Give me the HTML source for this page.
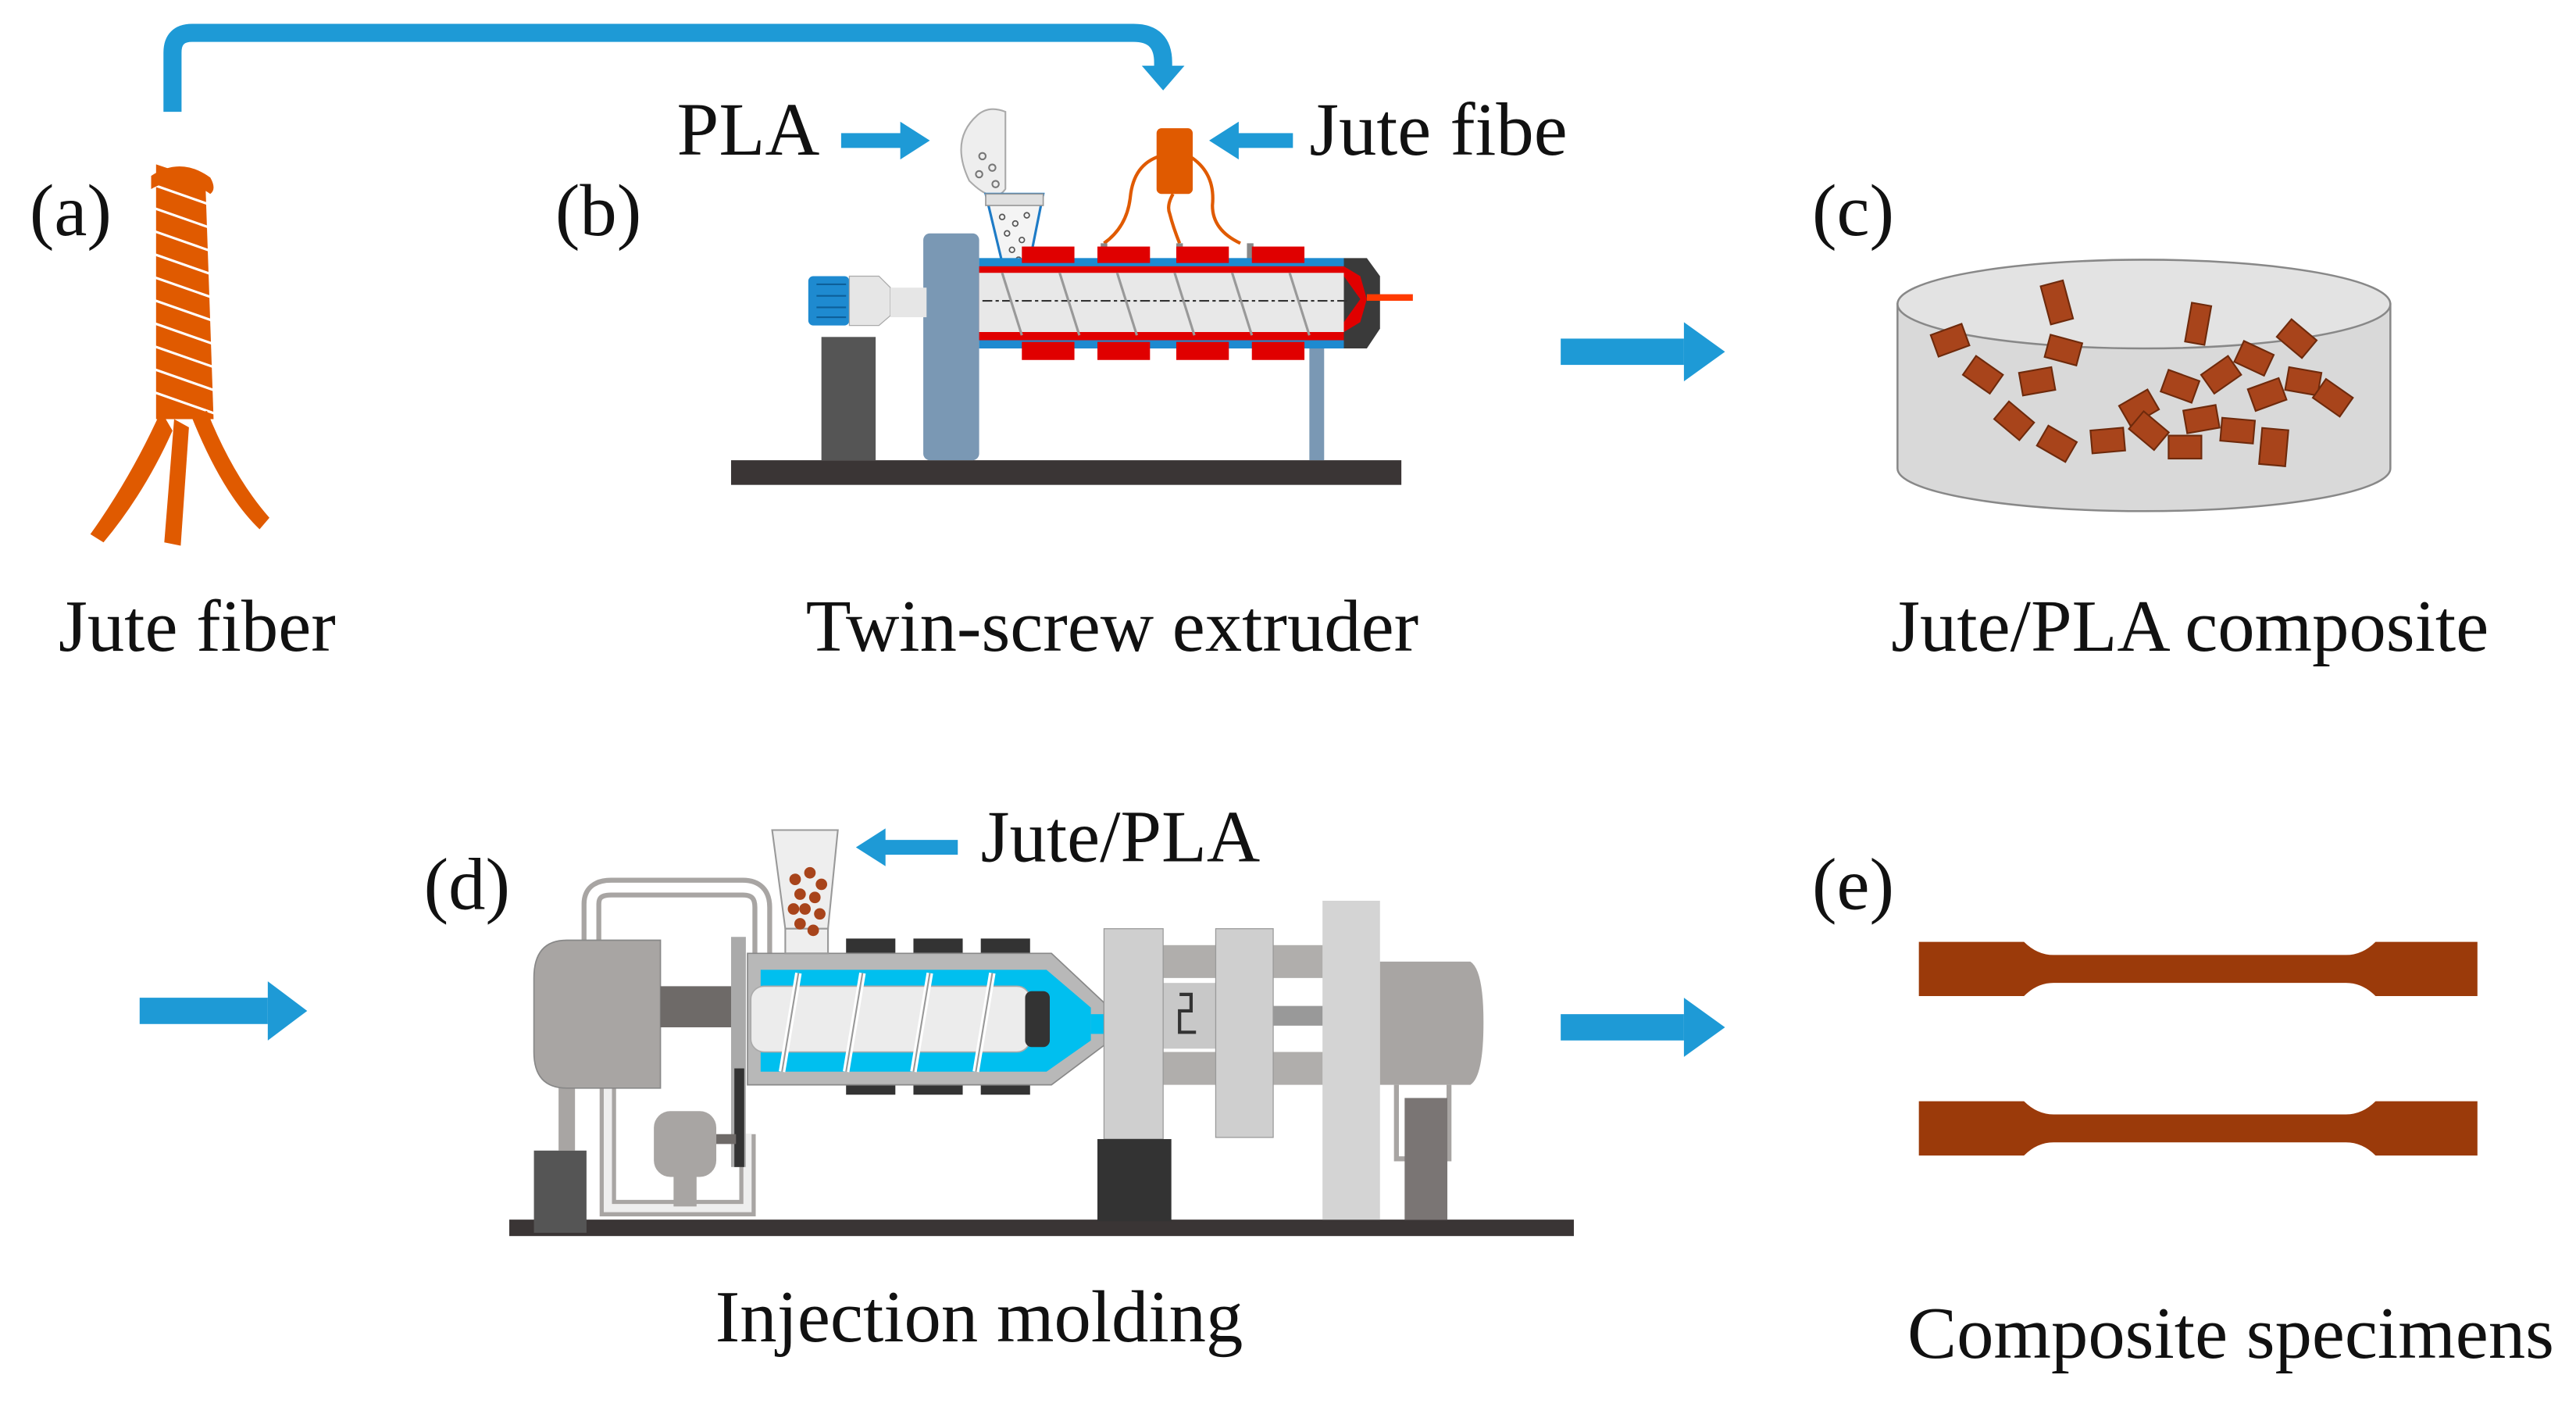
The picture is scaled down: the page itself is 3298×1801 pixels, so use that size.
<!DOCTYPE html>
<html><head><meta charset="utf-8"><style>
html,body{margin:0;padding:0;background:#fff;}
svg{display:block;}
text{font-family:"Liberation Serif",serif;fill:#111;}
</style></head><body>
<svg width="3298" height="1801" viewBox="0 0 1568 856" preserveAspectRatio="none" xmlns="http://www.w3.org/2000/svg">
<rect width="1568" height="856" fill="#fff"/>
<!-- top arrow -->
<path d="M105,68 V32 Q105,20 117,20 H690 Q708,20 708,38 V42" fill="none" stroke="#1E9AD6" stroke-width="11"/>
<polygon points="695,40 721,40 708,55" fill="#1E9AD6"/>

<!-- (a) jute fiber -->
<text x="18" y="143" font-size="45">(a)</text>
<g fill="#E05A00">
<path d="M95,100 L125,110 L130,255 L95,255 Z"/>
<g stroke="#fff" stroke-width="1.5">
<path d="M92,112 L132,126 M92,126 L132,140 M92,140 L132,154 M92,154 L132,168 M92,168 L132,182 M92,182 L132,196 M92,196 L132,210 M92,210 L132,224 M92,224 L132,238 M92,238 L132,252" fill="none"/>
</g>
<path d="M92,107 Q110,95 128,108 Q132,115 128,118 Q110,105 92,115 Z"/>
<path d="M98,250 Q80,290 55,325 L63,330 Q88,300 105,262 Z"/>
<path d="M106,255 L100,330 L110,332 L115,260 Z"/>
<path d="M116,252 Q135,300 158,322 L164,315 Q142,290 126,250 Z"/>
</g>
<text x="120" y="396" font-size="45" text-anchor="middle">Jute fiber</text>

<!-- (b) extruder -->
<text x="338" y="143" font-size="45">(b)</text>
<text x="412" y="94" font-size="46">PLA</text>
<rect x="512" y="81" width="38" height="9" fill="#1E9AD6"/><polygon points="548,74 566,85.5 548,97" fill="#1E9AD6"/>
<text x="797" y="94" font-size="46">Jute fibe</text>
<rect x="752" y="81" width="35" height="9" fill="#1E9AD6"/><polygon points="754,74 736,85.5 754,97" fill="#1E9AD6"/>
<!-- PLA bag -->
<path d="M595,70 Q578,85 590,110 Q605,125 612,115 L612,68 Q602,64 595,70 Z" fill="#eee" stroke="#aaa" stroke-width="1"/>
<g fill="none" stroke="#777" stroke-width="1"><circle cx="598" cy="95" r="2"/><circle cx="604" cy="102" r="2"/><circle cx="596" cy="106" r="2"/><circle cx="606" cy="112" r="2"/></g>
<!-- hopper -->
<polygon points="600,118 635,118 625,168 612,168" fill="#f4f4f4" stroke="#1E7BC6" stroke-width="1.5"/>
<rect x="600" y="118" width="35" height="7" fill="#e0e0e0" stroke="#999" stroke-width="0.8"/>
<g fill="none" stroke="#555" stroke-width="0.8">
<circle cx="610" cy="132" r="1.6"/><circle cx="618" cy="136" r="1.6"/><circle cx="625" cy="131" r="1.6"/><circle cx="613" cy="142" r="1.6"/><circle cx="622" cy="146" r="1.6"/><circle cx="616" cy="152" r="1.6"/><circle cx="620" cy="158" r="1.6"/><circle cx="615" cy="164" r="1.6"/></g>
<!-- jute feeder -->
<rect x="704" y="78" width="22" height="40" rx="3" fill="#E05A00"/>
<path d="M706,95 Q690,100 688,120 Q686,138 672,148 M714,118 Q710,125 712,130 Q714,138 718,148 M724,95 Q740,105 738,125 Q738,140 755,148" fill="none" stroke="#E05A00" stroke-width="2"/>
<g fill="#888"><rect x="670" y="148" width="4" height="14"/><rect x="716" y="148" width="4" height="14"/><rect x="759" y="148" width="4" height="14"/></g>
<!-- frame -->
<rect x="445" y="280" width="408" height="15" fill="#3A3535"/>
<rect x="500" y="205" width="33" height="75" fill="#555"/>
<rect x="562" y="142" width="34" height="138" rx="4" fill="#7A98B4"/>
<rect x="797" y="208" width="9" height="72" fill="#7A98B4"/>
<rect x="492" y="168" width="25" height="30" rx="3" fill="#1E8AD0"/>
<path d="M497,173 H515 M497,180 H515 M497,187 H515 M497,193 H515" stroke="#0d5f99" stroke-width="1"/>
<polygon points="517,168 535,168 542,175 542,192 535,198 517,198" fill="#e6e6e6" stroke="#aaa" stroke-width="0.6"/>
<rect x="542" y="175" width="22" height="18" fill="#e6e6e6"/>
<!-- barrel -->
<rect x="596" y="157" width="222" height="55" fill="#1E8AD0"/>
<rect x="596" y="162" width="222" height="45" fill="#E00000"/>
<rect x="596" y="166" width="226" height="36" fill="#e8e8e8"/>
<polygon points="818,157 832,157 840,168 840,200 832,212 818,212" fill="#3a3a3a"/>
<polygon points="818,162 828,168 832,182 828,196 818,202 818,196 828,182 818,168" fill="#E00000"/>
<rect x="832" y="179" width="28" height="4" fill="#ff3a00"/>
<g fill="#E00000"><rect x="622" y="150" width="32" height="10"/><rect x="668" y="150" width="32" height="10"/><rect x="716" y="150" width="32" height="10"/><rect x="762" y="150" width="32" height="10"/>
<rect x="622" y="208" width="32" height="11"/><rect x="668" y="208" width="32" height="11"/><rect x="716" y="208" width="32" height="11"/><rect x="762" y="208" width="32" height="11"/></g>
<line x1="598" y1="183" x2="822" y2="183" stroke="#333" stroke-width="1" stroke-dasharray="6,2,2,2"/>
<g stroke="#999" stroke-width="1.5"><line x1="610" y1="166" x2="622" y2="204"/><line x1="645" y1="166" x2="657" y2="204"/><line x1="680" y1="166" x2="692" y2="204"/><line x1="715" y1="166" x2="727" y2="204"/><line x1="750" y1="166" x2="762" y2="204"/><line x1="785" y1="166" x2="797" y2="204"/></g>
<text x="677" y="396" font-size="45" text-anchor="middle">Twin-screw extruder</text>

<!-- arrows -->
<g fill="#1E9AD6">
<rect x="950" y="206" width="75" height="16"/><polygon points="1025,196 1050,214 1025,232"/>
<rect x="85" y="607" width="78" height="16"/><polygon points="163,597 187,615 163,633"/>
<rect x="950" y="617" width="75" height="16"/><polygon points="1025,607 1050,625 1025,643"/>
</g>

<!-- (c) dish -->
<text x="1103" y="143" font-size="45">(c)</text>
<path d="M1155,185 V285 A150,26 0 0 0 1455,285 V185 Z" fill="#d9d9d9" stroke="#888" stroke-width="1.2"/>
<ellipse cx="1305" cy="185" rx="150" ry="27" fill="#e3e3e3" stroke="#888" stroke-width="1.2"/>
<g fill="#A8441B" stroke="#6e2a0c" stroke-width="1">
<rect x="-10" y="-7" width="20" height="14" transform="translate(1187,207) rotate(-20)"/>
<rect x="-7" y="-12" width="14" height="24" transform="translate(1252,184) rotate(-15)"/>
<rect x="-10" y="-7" width="20" height="14" transform="translate(1207,228) rotate(35)"/>
<rect x="-10" y="-7" width="20" height="14" transform="translate(1240,232) rotate(-10)"/>
<rect x="-10" y="-7" width="20" height="14" transform="translate(1256,213) rotate(15)"/>
<rect x="-10" y="-7" width="20" height="14" transform="translate(1226,256) rotate(40)"/>
<rect x="-10" y="-7" width="20" height="14" transform="translate(1252,270) rotate(30)"/>
<rect x="-6" y="-12" width="12" height="24" transform="translate(1338,197) rotate(10)"/>
<rect x="-10" y="-7" width="20" height="14" transform="translate(1283,268) rotate(-5)"/>
<rect x="-10" y="-7" width="20" height="14" transform="translate(1302,248) rotate(-30)"/>
<rect x="-10" y="-7" width="20" height="14" transform="translate(1327,235) rotate(20)"/>
<rect x="-10" y="-7" width="20" height="14" transform="translate(1340,255) rotate(-10)"/>
<rect x="-10" y="-7" width="20" height="14" transform="translate(1330,272) rotate(0)"/>
<rect x="-10" y="-7" width="20" height="14" transform="translate(1362,262) rotate(5)"/>
<rect x="-10" y="-7" width="20" height="14" transform="translate(1352,228) rotate(-35)"/>
<rect x="-10" y="-7" width="20" height="14" transform="translate(1372,218) rotate(25)"/>
<rect x="-10" y="-7" width="20" height="14" transform="translate(1398,206) rotate(40)"/>
<rect x="-10" y="-7" width="20" height="14" transform="translate(1402,232) rotate(10)"/>
<rect x="-10" y="-7" width="20" height="14" transform="translate(1420,242) rotate(35)"/>
<rect x="-8" y="-11" width="16" height="22" transform="translate(1384,272) rotate(5)"/>
<rect x="-10" y="-7" width="20" height="14" transform="translate(1380,240) rotate(-20)"/>
<rect x="-10" y="-7" width="20" height="14" transform="translate(1308,262) rotate(40)"/>
</g>
<text x="1333" y="396" font-size="45" text-anchor="middle">Jute/PLA composite</text>

<!-- (d) injection molding -->
<text x="258" y="553" font-size="45">(d)</text>
<text x="597" y="524" font-size="45">Jute/PLA</text>
<rect x="537" y="511" width="46" height="9" fill="#1E9AD6"/><polygon points="539,504 521,515.5 539,527" fill="#1E9AD6"/>
<rect x="310" y="742" width="648" height="10" fill="#3A3535"/>
<!-- pipes -->
<path d="M360,575 V550 Q360,540 372,540 H452 Q464,540 464,552 V590" fill="none" stroke="#a8a5a3" stroke-width="12"/>
<path d="M360,575 V550 Q360,540 372,540 H452 Q464,540 464,552 V590" fill="none" stroke="#fff" stroke-width="6"/>
<path d="M345,660 V700 M370,660 V735 H455 V690" fill="none" stroke="#a8a5a3" stroke-width="10"/>
<path d="M370,660 V735 H455 V690" fill="none" stroke="#eee" stroke-width="5"/>
<rect x="325" y="700" width="32" height="50" fill="#555"/>
<path d="M345,572 H402 V662 H345 Q325,662 325,640 V595 Q325,572 345,572 Z" fill="#a8a5a3" stroke="#888" stroke-width="0.8"/>
<rect x="402" y="600" width="50" height="25" fill="#6e6a68"/>
<rect x="445" y="570" width="9" height="140" fill="#aaa"/>
<rect x="447" y="650" width="6" height="60" fill="#333"/>
<rect x="398" y="676" width="38" height="40" rx="10" fill="#a8a5a3"/>
<rect x="410" y="716" width="14" height="18" fill="#a8a5a3"/>
<rect x="436" y="690" width="12" height="6" fill="#6e6a68"/>
<!-- barrel -->
<g fill="#333"><rect x="515" y="571" width="30" height="9"/><rect x="556" y="571" width="30" height="9"/><rect x="597" y="571" width="30" height="9"/>
<rect x="515" y="657" width="30" height="9"/><rect x="556" y="657" width="30" height="9"/><rect x="597" y="657" width="30" height="9"/></g>
<polygon points="455,580 640,580 672,610 672,636 640,660 455,660" fill="#b8b8b8" stroke="#888" stroke-width="0.8"/>
<polygon points="463,590 637,590 664,613 664,633 637,652 463,652" fill="#00BFEF"/>
<rect x="664" y="617" width="48" height="12" fill="#00BFEF"/>
<rect x="457" y="600" width="170" height="40" rx="8" fill="#ececec" stroke="#aaa" stroke-width="0.8"/>
<rect x="624" y="603" width="15" height="34" rx="4" fill="#333"/>
<g stroke="#fff" stroke-width="4"><line x1="486" y1="592" x2="476" y2="652"/><line x1="525" y1="592" x2="515" y2="652"/><line x1="566" y1="592" x2="556" y2="652"/><line x1="604" y1="592" x2="594" y2="652"/></g>
<g stroke="#999" stroke-width="1" fill="none"><line x1="486" y1="592" x2="476" y2="652"/><line x1="525" y1="592" x2="515" y2="652"/><line x1="566" y1="592" x2="556" y2="652"/><line x1="604" y1="592" x2="594" y2="652"/></g>
<!-- hopper -->
<polygon points="470,505 510,505 504,565 478,565" fill="#eee" stroke="#999" stroke-width="1"/>
<rect x="478" y="565" width="26" height="15" fill="#eee" stroke="#999" stroke-width="1"/>
<g fill="#A8441B"><circle cx="484" cy="535" r="3.5"/><circle cx="493" cy="531" r="3.5"/><circle cx="500" cy="538" r="3.5"/><circle cx="487" cy="544" r="3.5"/><circle cx="496" cy="546" r="3.5"/><circle cx="490" cy="553" r="3.5"/><circle cx="499" cy="556" r="3.5"/><circle cx="487" cy="562" r="3.5"/><circle cx="495" cy="566" r="3.5"/><circle cx="483" cy="553" r="3.5"/></g>
<!-- clamp -->
<rect x="708" y="575" width="100" height="20" fill="#b0aeac"/>
<rect x="708" y="640" width="100" height="20" fill="#b0aeac"/>
<rect x="708" y="598" width="40" height="40" fill="#c8c8c8"/>
<path d="M718,605 H725 V615 H718 V628 H728" fill="none" stroke="#333" stroke-width="2"/>
<rect x="775" y="612" width="32" height="12" fill="#999"/>
<rect x="672" y="565" width="36" height="128" fill="#cfcfcf" stroke="#999" stroke-width="0.6"/>
<rect x="668" y="693" width="45" height="50" fill="#333"/>
<rect x="740" y="565" width="35" height="127" fill="#cfcfcf" stroke="#999" stroke-width="0.6"/>
<rect x="805" y="548" width="35" height="194" fill="#d4d4d4"/>
<path d="M840,585 H895 Q903,590 903,622 Q903,655 895,660 H840 Z" fill="#a8a5a3"/>
<path d="M850,660 V705 H882 V660" fill="none" stroke="#a8a5a3" stroke-width="3"/>
<rect x="855" y="668" width="26" height="74" fill="#7a7574"/>
<text x="596" y="816" font-size="45" text-anchor="middle">Injection molding</text>

<!-- (e) specimens -->
<text x="1103" y="553" font-size="45">(e)</text>
<g fill="#9B3A0A">
<path d="M1168,573 H1232 Q1240,581 1250,581 H1428 Q1438,581 1446,573 H1508 V606 H1446 Q1438,598 1428,598 H1250 Q1240,598 1232,606 H1168 Z"/>
<path d="M1168,670 H1232 Q1240,678 1250,678 H1428 Q1438,678 1446,670 H1508 V703 H1446 Q1438,695 1428,695 H1250 Q1240,695 1232,703 H1168 Z"/>
</g>
<text x="1161" y="826" font-size="45">Composite specimens</text>
</svg>
</body></html>
